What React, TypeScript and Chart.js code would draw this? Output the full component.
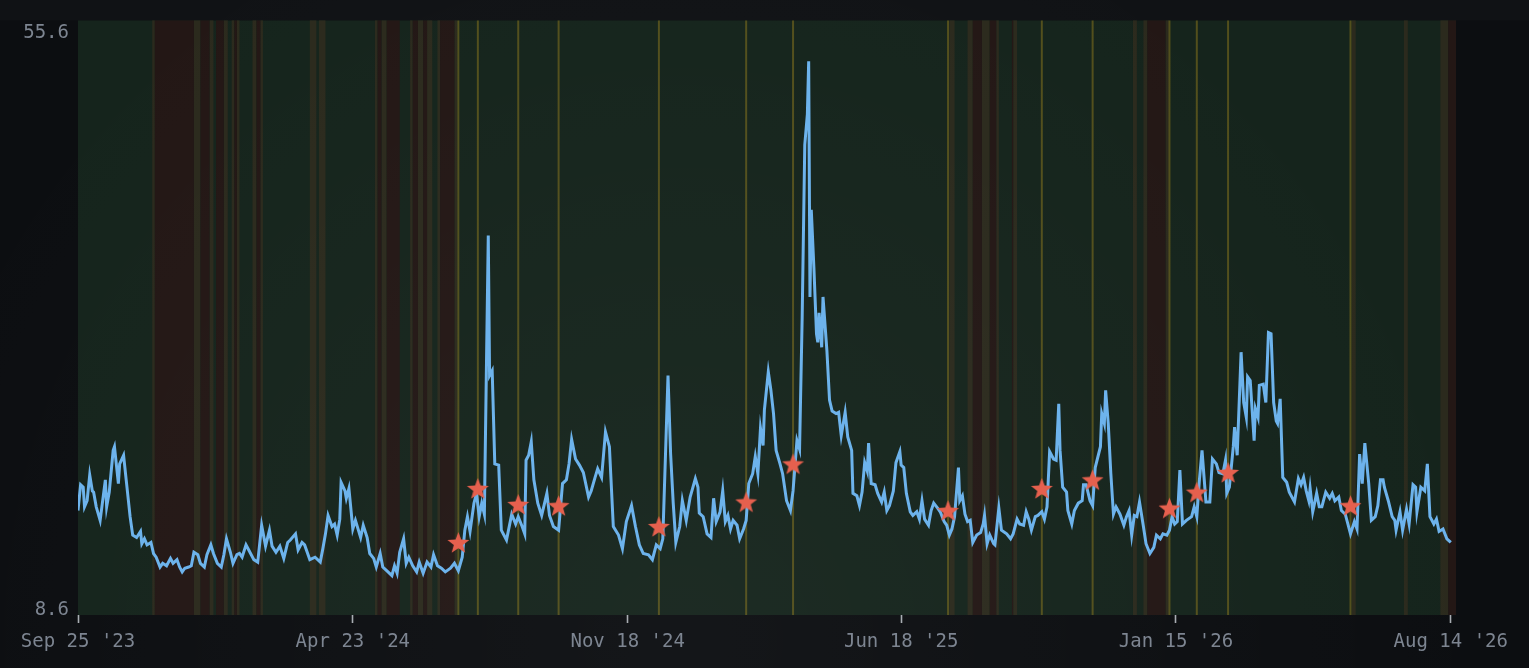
import { useEffect, useRef } from "react";
import { Chart, registerables } from "chart.js";

Chart.register(...registerables);

// ---- data ----
const xTickDays = [0, 211, 422, 632, 843, 1054];
const xTickLabels = ["Sep 25 '23", "Apr 23 '24", "Nov 18 '24", "Jun 18 '25", "Jan 15 '26", "Aug 14 '26"];
const yTickValues = [8.6, 55.6];
const xRange = [0, 1058];
const yRange = [8.19, 56.63];

// day offset from Sep 25 '23
const dayIndex = [
  0, 2, 4, 5, 7, 9, 11, 12, 14, 17, 21, 22, 24, 27, 28, 31, 32, 35, 37, 40, 42, 45, 48, 49, 51, 53, 56, 58, 60, 63,
  65, 68, 71, 73, 76, 78, 80, 82, 85, 87, 89, 92, 94, 97, 99, 102, 104, 107, 110, 112, 114, 117, 119, 122, 124, 126, 129, 131, 135, 138,
  141, 144, 147, 149, 152, 155, 158, 161, 163, 167, 169, 172, 174, 178, 182, 186, 188, 190, 192, 195, 197, 199, 201, 202, 205, 206, 208, 211, 213, 217,
  219, 222, 224, 227, 229, 232, 234, 238, 241, 243, 245, 247, 250, 252, 254, 257, 260, 262, 265, 268, 271, 273, 276, 279, 282, 286, 289, 292, 295, 297,
  299, 301, 304, 306, 308, 310, 312, 315, 316, 318, 320, 323, 325, 329, 333, 336, 338, 341, 343, 344, 346, 348, 350, 353, 356, 360, 362, 365, 369, 372,
  375, 377, 379, 382, 385, 388, 392, 394, 397, 399, 402, 405, 408, 411, 415, 418, 421, 425, 428, 431, 434, 438, 441, 444, 447, 449, 453, 455, 457, 459,
  462, 464, 467, 470, 474, 476, 477, 480, 483, 486, 488, 490, 493, 495, 497, 499, 501, 503, 506, 508, 511, 513, 515, 518, 520, 522, 524, 526, 527, 530,
  532, 534, 536, 539, 541, 544, 547, 549, 552, 554, 556, 558, 560, 561, 562, 563, 565, 567, 568, 569, 571, 572, 575, 577, 579, 582, 584, 586, 589, 591,
  594, 595, 598, 600, 602, 604, 606, 607, 609, 612, 614, 617, 619, 621, 623, 626, 628, 631, 632, 634, 636, 639, 641, 644, 646, 648, 650, 653, 655, 657,
  660, 662, 665, 667, 669, 671, 673, 676, 677, 679, 681, 683, 685, 687, 690, 693, 695, 696, 698, 700, 703, 704, 707, 709, 713, 716, 718, 721, 723, 726,
  728, 730, 732, 735, 737, 740, 742, 744, 746, 749, 751, 753, 754, 756, 759, 760, 763, 765, 768, 771, 772, 774, 777, 779, 781, 785, 786, 788, 789, 791,
  793, 795, 797, 800, 803, 805, 807, 809, 811, 813, 815, 818, 820, 823, 826, 828, 831, 833, 836, 838, 840, 842, 844, 846, 848, 851, 855, 857, 859, 861,
  863, 866, 869, 871, 874, 876, 879, 881, 882, 884, 887, 888, 890, 893, 895, 897, 898, 900, 903, 904, 906, 907, 910, 912, 914, 916, 918, 920, 921, 923,
  925, 928, 930, 934, 937, 939, 941, 943, 945, 946, 948, 951, 953, 955, 958, 961, 963, 965, 968, 970, 973, 977, 980, 982, 984, 986, 988, 991, 993, 996,
  998, 1000, 1002, 1003, 1006, 1009, 1011, 1012, 1015, 1017, 1020, 1022, 1025, 1027, 1028, 1031, 1034, 1036, 1038, 1041, 1043, 1045, 1048, 1051, 1054,
];

const seriesValues = [
  16.7, 18.8, 18.6, 17.0, 17.5, 19.6, 18.3, 18.2, 17.0, 15.9, 19.2, 17.0, 18.2, 21.6, 21.9, 18.9, 20.5, 21.2, 19.2, 16.2, 14.7, 14.5, 15.0, 14.0, 14.4, 13.9, 14.1, 13.2, 12.9, 12.1,
  12.4, 12.2, 12.8, 12.4, 12.7, 12.1, 11.7, 12.0, 12.1, 12.2, 13.3, 13.1, 12.4, 12.1, 13.1, 13.9, 13.2, 12.4, 12.1, 13.1, 14.4, 13.3, 12.4, 13.1, 13.2, 12.9, 13.9, 13.5, 12.7, 12.5,
  15.5, 13.8, 15.1, 13.8, 13.3, 13.8, 12.8, 14.1, 14.3, 14.8, 13.5, 14.1, 13.9, 12.7, 12.9, 12.5, 13.6, 14.8, 16.3, 15.4, 15.6, 14.7, 16.0, 19.0, 18.3, 17.7, 18.5, 15.2, 15.9, 14.5,
  15.5, 14.5, 13.2, 12.8, 12.1, 13.2, 12.1, 11.7, 11.4, 12.2, 11.6, 13.3, 14.4, 12.4, 12.9, 12.2, 11.7, 12.5, 11.6, 12.5, 12.1, 13.1, 12.2, 12.0, 11.7, 12.0, 12.4, 11.8, 12.9, 15.1,
  16.2, 15.0, 17.3, 18.1, 16.2, 17.3, 16.4, 39.1, 27.7, 28.1, 20.5, 20.4, 15.1, 14.3, 16.4, 15.6, 16.2, 15.4, 14.8, 20.8, 21.2, 22.3, 19.2, 17.3, 16.3, 18.1, 16.3, 15.4, 15.1, 18.9,
  19.2, 20.5, 22.5, 20.9, 20.4, 19.8, 17.8, 18.3, 19.4, 20.1, 19.4, 23.1, 21.9, 15.4, 14.7, 13.6, 15.8, 17.1, 15.4, 13.9, 13.2, 13.1, 12.7, 13.9, 13.6, 14.4, 27.7, 21.3, 17.3, 14.1,
  15.4, 17.5, 15.9, 17.8, 19.3, 18.6, 16.5, 16.2, 14.8, 14.5, 17.7, 15.8, 16.6, 18.3, 15.8, 16.3, 15.2, 15.9, 15.5, 14.4, 15.2, 15.9, 18.9, 19.7, 21.1, 19.7, 23.4, 22.0, 24.9, 28.0,
  26.5, 24.6, 21.6, 20.5, 19.7, 17.5, 16.7, 18.3, 22.4, 21.7, 32.4, 46.5, 49.0, 53.3, 34.1, 41.2, 36.5, 31.1, 30.4, 32.8, 30.0, 34.1, 29.7, 25.7, 24.8, 24.6, 24.7, 22.8, 24.7, 22.7,
  21.6, 18.1, 17.9, 17.1, 18.2, 20.6, 19.9, 22.2, 18.9, 18.8, 18.1, 17.4, 18.2, 16.7, 17.1, 18.3, 20.6, 21.5, 20.4, 20.2, 18.1, 16.6, 16.3, 16.6, 16.0, 17.5, 16.0, 15.5, 16.7, 17.3,
  16.9, 16.6, 15.8, 15.5, 14.7, 15.2, 16.2, 20.2, 17.5, 17.9, 16.4, 15.8, 15.9, 14.1, 14.7, 14.9, 15.6, 16.3, 14.0, 14.7, 14.0, 13.9, 16.9, 15.1, 14.8, 14.4, 14.8, 16.0, 15.6, 15.5,
  16.6, 16.0, 15.1, 16.2, 16.3, 16.6, 16.0, 17.0, 21.5, 20.9, 20.8, 25.4, 21.6, 18.6, 18.2, 16.7, 15.6, 16.7, 17.3, 17.5, 18.8, 18.8, 17.5, 17.1, 20.2, 21.9, 24.6, 23.8, 26.5, 23.8,
  19.7, 16.4, 17.0, 16.4, 15.5, 16.2, 16.7, 14.7, 16.3, 16.2, 17.4, 15.4, 14.0, 13.2, 13.7, 14.7, 14.4, 14.8, 14.7, 15.1, 16.2, 15.6, 15.8, 20.0, 15.6, 15.9, 16.2, 17.0, 16.2, 19.2,
  21.6, 17.4, 17.4, 20.9, 20.5, 19.8, 19.7, 20.8, 18.1, 18.6, 21.9, 23.5, 21.2, 29.6, 25.5, 24.3, 27.6, 27.3, 22.4, 25.0, 24.3, 26.9, 27.0, 25.5, 31.2, 31.1, 25.5, 24.0, 23.8, 25.8,
  19.4, 19.0, 18.2, 17.4, 19.3, 18.8, 19.4, 18.3, 17.5, 18.5, 16.6, 18.1, 17.0, 17.0, 18.2, 17.7, 18.1, 17.5, 17.8, 16.7, 16.4, 14.8, 15.8, 15.2, 21.3, 18.9, 22.2, 18.9, 15.9, 16.2,
  17.1, 19.2, 19.2, 18.6, 17.5, 16.2, 15.9, 15.1, 16.6, 15.1, 16.8, 15.6, 18.8, 18.6, 16.6, 18.6, 18.3, 20.5, 16.2, 15.6, 16.0, 15.0, 15.2, 14.4, 14.1,
];

const starDays = [292, 307, 338, 369, 446, 513, 549, 668, 740, 779, 838, 859, 883, 977];
const starValues = [14.1, 18.5, 17.2, 17.1, 15.4, 17.4, 20.5, 16.7, 18.5, 19.2, 16.9, 18.2, 19.8, 17.1];

const redSpans: number[][] = [
  [59, 89], [94, 101], [106, 112], [120, 122], [137, 140], [230, 233], [237, 247], [257, 261], [265, 268], [278, 289],
  [687, 694], [700, 705], [717, 718], [821, 835], [1052, 1058],
];
const amberSpans: number[][] = [
  [57, 59], [89, 94], [101, 104], [112, 115], [118, 120], [122, 124], [134, 137], [140, 142], [178, 183], [185, 190],
  [228, 230], [233, 237], [255, 257], [261, 265], [268, 272], [276, 278], [289, 291], [669, 673], [683, 687], [694, 700],
  [705, 707], [718, 721], [810, 813], [818, 821], [835, 838], [978, 981], [1018, 1021], [1046, 1052],
];

// ---- styles ----
const PAGE_BG = "#0c0e11";
const GREEN = "#15241c";
const RED = "#231715";
const AMBER = "#2b2a1d";
const YELLOW = "#524f1c";
const LINE = "#6db3ec";
const STAR = "#e5604e";
const TEXT = "#7d8591";
const FONT = "'DejaVu Sans Mono', 'Liberation Mono', monospace";

function makeStar(color: string, outer: number, inner: number) {
  const size = Math.ceil(outer * 2 + 2);
  const c = document.createElement("canvas");
  c.width = size;
  c.height = size;
  const ctx = c.getContext("2d")!;
  ctx.beginPath();
  for (let i = 0; i < 10; i++) {
    const r = i % 2 === 0 ? outer : inner;
    const a = -Math.PI / 2 + (i * Math.PI) / 5;
    const px = size / 2 + r * Math.cos(a);
    const py = size / 2 + 1 + r * Math.sin(a);
    if (i === 0) ctx.moveTo(px, py);
    else ctx.lineTo(px, py);
  }
  ctx.closePath();
  ctx.fillStyle = color;
  ctx.fill();
  return c;
}

const bgPlugin = {
  id: "regimeBackground",
  beforeDraw(chart: any) {
    const { ctx, chartArea: a, scales } = chart;
    const x = scales.x;
    ctx.save();
    ctx.fillStyle = PAGE_BG;
    ctx.fillRect(0, 0, chart.width, chart.height);
    ctx.fillStyle = "#101215";
    ctx.fillRect(0, 0, chart.width, a.top);
    ctx.fillStyle = GREEN;
    ctx.fillRect(a.left, a.top, a.right - a.left, a.bottom - a.top);
    const span = (s: number, e: number, c: string) => {
      const x0 = x.getPixelForValue(s);
      const x1 = x.getPixelForValue(e);
      ctx.fillStyle = c;
      ctx.fillRect(x0, a.top, x1 - x0, a.bottom - a.top);
    };
    amberSpans.forEach(([s, e]) => span(s, e, AMBER));
    redSpans.forEach(([s, e]) => span(s, e, RED));
    ctx.strokeStyle = YELLOW;
    ctx.lineWidth = 2;
    starDays.forEach((d) => {
      const px = x.getPixelForValue(d);
      ctx.beginPath();
      ctx.moveTo(px, a.top);
      ctx.lineTo(px, a.bottom);
      ctx.stroke();
    });
    // soft glow, lighter toward the lower middle
    const g = ctx.createRadialGradient(680, 640, 0, 680, 640, 820);
    g.addColorStop(0, "rgba(255,255,255,0.035)");
    g.addColorStop(1, "rgba(255,255,255,0)");
    ctx.fillStyle = g;
    ctx.fillRect(0, 0, chart.width, chart.height);
    ctx.restore();
  },
};

export default function App() {
  const ref = useRef<HTMLCanvasElement | null>(null);

  useEffect(() => {
    if (!ref.current) return;
    const star = makeStar(STAR, 11.5, 4.8);
    const lineData = dayIndex.map((d, i) => ({ x: d, y: seriesValues[i] }));
    const starData = starDays.map((d, i) => ({ x: d, y: starValues[i] }));
    const chart = new Chart(ref.current, {
      type: "line",
      data: {
        datasets: [
          {
            data: starData,
            showLine: false,
            pointStyle: star as any,
            pointRadius: 11,
            pointHoverRadius: 11,
            order: 0,
          },
          {
            data: lineData,
            borderColor: LINE,
            borderWidth: 3,
            pointRadius: 0,
            tension: 0,
            fill: false,
            order: 1,
          },
        ],
      },
      options: {
        animation: false,
        responsive: false,
        devicePixelRatio: 1,
        layout: { padding: { top: 19, right: 73, left: 0, bottom: 0 } },
        plugins: { legend: { display: false }, tooltip: { enabled: false } },
        events: [],
        scales: {
          x: {
            type: "linear",
            min: xRange[0],
            max: xRange[1],
            border: { display: false },
            grid: {
              display: true,
              drawOnChartArea: false,
              drawTicks: true,
              tickLength: 8,
              tickColor: "#a9adb3",
              tickWidth: 1.6,
              color: "transparent",
            },
            afterBuildTicks: (axis: any) => {
              axis.ticks = xTickDays.map((v) => ({ value: v }));
            },
            afterFit: (axis: any) => {
              axis.height = 53;
            },
            ticks: {
              autoSkip: false,
              maxRotation: 0,
              padding: 8,
              color: TEXT,
              font: { family: FONT, size: 19 },
              callback: (_v: any, i: number) => xTickLabels[i],
            },
          },
          y: {
            type: "linear",
            min: yRange[0],
            max: yRange[1],
            border: { display: false },
            grid: { display: false, drawTicks: false },
            afterBuildTicks: (axis: any) => {
              axis.ticks = yTickValues.map((v) => ({ value: v }));
            },
            afterFit: (axis: any) => {
              axis.width = 78;
            },
            ticks: {
              padding: 9,
              color: TEXT,
              font: { family: FONT, size: 19 },
              callback: (v: any) => Number(v).toFixed(1),
            },
          },
        },
      },
      plugins: [bgPlugin],
    });
    return () => chart.destroy();
  }, []);

  return (
    <div
      style={{
        position: "fixed",
        left: 0,
        top: 0,
        width: 1529,
        height: 668,
        background: PAGE_BG,
      }}
    >
      <canvas ref={ref} width={1529} height={668} style={{ display: "block", width: 1529, height: 668 }} />
    </div>
  );
}
